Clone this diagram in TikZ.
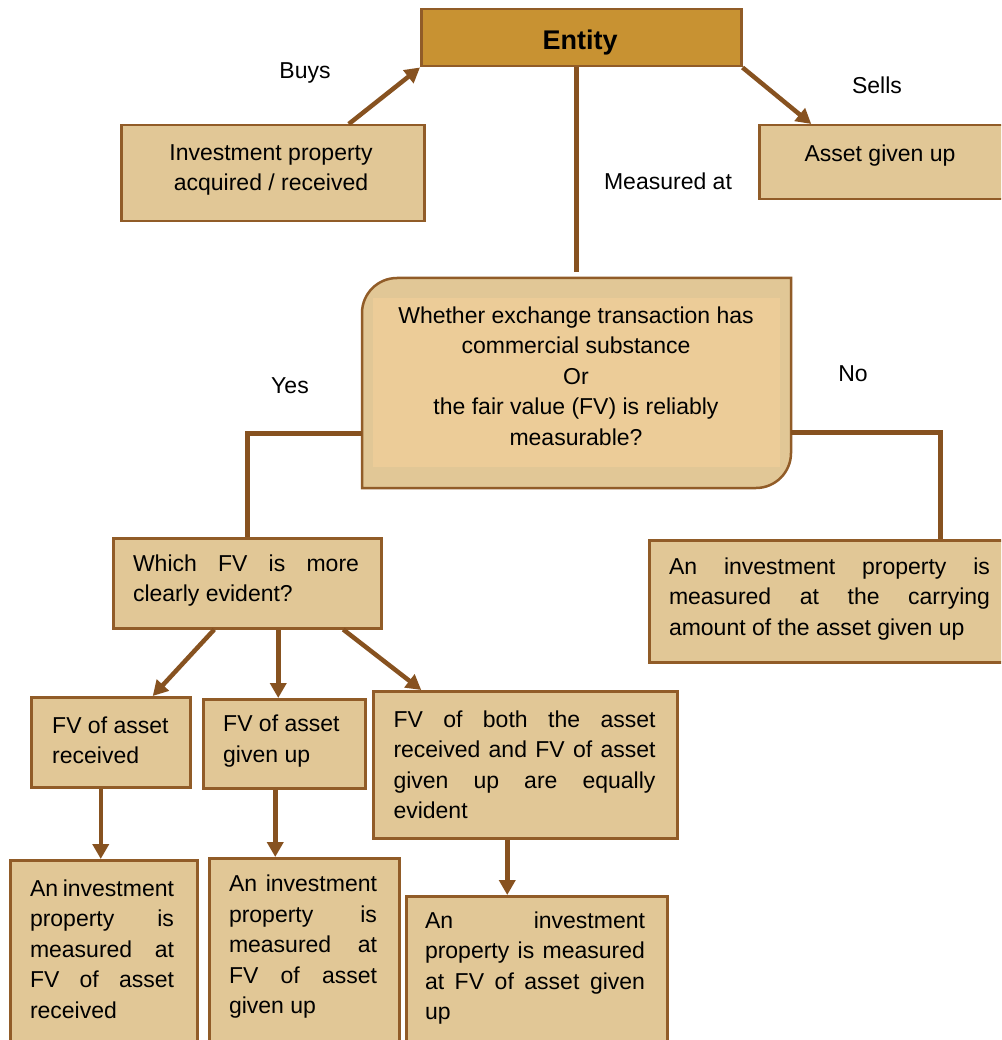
\documentclass[tikz,border=0pt]{standalone}
\usepackage{fontspec}
\setmainfont{Liberation Sans}
\usetikzlibrary{arrows.meta,calc}
\definecolor{boxfill}{RGB}{225,199,150}
\definecolor{entfill}{RGB}{200,146,50}
\definecolor{brd}{RGB}{145,92,40}
\definecolor{conn}{RGB}{135,82,32}
\definecolor{decin}{RGB}{236,204,152}
\newcommand\jrow[2]{\makebox[#1][s]{#2}}
\begin{document}
\begin{tikzpicture}[x=1pt,y=-1pt,
  box/.style={draw=brd,fill=boxfill,line width=2.5pt,rectangle,inner sep=0pt,anchor=north west},
  txt/.style={font=\fontsize{23}{30.5}\selectfont,inner sep=0pt,align=left},
  ctxt/.style={txt,align=center},
  arr/.style={draw=conn,line width=4.5pt,-{Triangle[length=15pt,width=16pt]}},
  ln/.style={draw=conn,line width=4.5pt}]
\clip (0,0) rectangle (1001,1040);
\fill[white] (0,0) rectangle (1001,1040);

% boxes
\node[box,fill=entfill,minimum width=320pt,minimum height=57pt] (ent) at (420,8) {};
\node[box,minimum width=303pt,minimum height=96pt] (inv) at (120,124) {};
\node[box,minimum width=252pt,minimum height=74pt] (asset) at (758,124) {};
\node[box,minimum width=268pt,minimum height=90pt] (wfv) at (112,537) {};
\node[box,minimum width=382pt,minimum height=122pt] (carry) at (648,539) {};
\node[box,minimum width=159pt,minimum height=90pt] (rec) at (30,696) {};
\node[box,minimum width=162pt,minimum height=89pt] (giv) at (202,698) {};
\node[box,minimum width=304pt,minimum height=147pt] (both) at (372,690) {};
\node[box,minimum width=187pt,minimum height=200pt] (res1) at (9,859) {};
\node[box,minimum width=190pt,minimum height=200pt] (res2) at (208,857) {};
\node[box,minimum width=261pt,minimum height=200pt] (res3) at (405,895) {};

% decision shape
\node[minimum width=429pt,minimum height=210pt,inner sep=0pt,anchor=north west] (dec) at (362,278) {};
\path[draw=brd,fill=boxfill,line width=2.5pt] (362,488) -- (362,313)
  .. controls (362,293.7) and (377.7,278) .. (397,278) -- (791,278) -- (791,453)
  .. controls (791,472.3) and (775.3,488) .. (756,488) -- cycle;
\fill[decin] (373,298) rectangle (780,467);

% texts
\node[txt,font=\fontsize{27}{30}\selectfont\bfseries] (ent-t) at (580,43) {Entity};
\node[ctxt] (inv-t) at (271,170) {Investment property\\acquired / received};
\node[ctxt] (asset-t) at (880,156) {Asset given up};
\node[ctxt] (dec-t) at (576,376) {Whether exchange transaction has\\commercial substance\\Or\\the fair value (FV) is reliably\\measurable?};
\node[txt] (wfv-t) at (246,580.5) {\jrow{226pt}{Which FV is more}\\clearly evident?};
\node[txt] (carry-t) at (829.5,599) {\jrow{321pt}{An investment property is}\\\jrow{321pt}{measured at the carrying}\\amount of the asset given up};
\node[txt,anchor=west] (rec-t) at (52,740.5) {FV of asset\\received};
\node[txt,anchor=west] (giv-t) at (223,741) {FV of asset\\given up};
\node[txt] (both-t) at (524.5,765) {\jrow{262pt}{FV of both the asset}\\\jrow{262pt}{received and FV of asset}\\\jrow{262pt}{given up are equally}\\evident};
\node[txt] (res1-t) at (102,949) {\jrow{144pt}{An investment}\\\jrow{144pt}{property is}\\\jrow{144pt}{measured at}\\\jrow{144pt}{FV of asset}\\received};
\node[txt] (res2-t) at (303,947) {\jrow{148pt}{An investment}\\\jrow{148pt}{property is}\\\jrow{148pt}{measured at}\\\jrow{148pt}{FV of asset}\\given up};
\node[txt] (res3-t) at (535,968) {\jrow{220pt}{An investment}\\\jrow{220pt}{property is measured}\\\jrow{220pt}{at FV of asset given}\\up};

% labels
\node[txt] (buys) at (305,73) {Buys};
\node[txt] (sells) at (877,85) {Sells};
\node[txt] (meas) at (668,181) {Measured at};
\node[txt] (yes) at (290,386) {Yes};
\node[txt] (no) at (853,374) {No};

% helper coordinates on box edges
\coordinate (w2) at ($(wfv.south)+(31,0)$);
\coordinate (r1) at ($(rec.south)+(-10,0)$);
\coordinate (g1) at ($(giv.south)+(-9,0)$);
\coordinate (b1) at ($(both.south)+(-18,0)$);

% connectors
\draw[arr] ($(inv.north)+(76,0)$) -- (ent.south west);
\draw[arr] (ent.south east) -- ($(asset.north)+(-74,0)$);
\draw[ln] (ent.south -| dec.north) -- ([yshift=6pt]dec.north);
\draw[ln] ($(dec.south west)+(0,-55)$) -| (wfv.north);
\draw[ln] ($(dec.south east)+(0,-56)$) -| ($(carry.north)+(100,0)$);
\draw[arr] ($(wfv.south)+(-33,0)$) -- ($(rec.north)+(42,0)$);
\draw[arr] (w2) -- (w2 |- giv.north);
\draw[arr] ($(wfv.south)+(96,0)$) -- ($(both.north)+(-104,0)$);
\draw[arr] (r1) -- (r1 |- res1.north);
\draw[arr] (g1) -- (g1 |- res2.north);
\draw[arr] (b1) -- (b1 |- res3.north);
\end{tikzpicture}
\end{document}
